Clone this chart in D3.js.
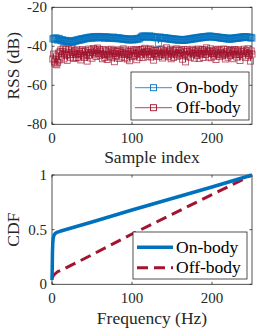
<!DOCTYPE html>
<html>
<head>
<meta charset="utf-8">
<script src="https://cdn.jsdelivr.net/npm/d3@7"></script>
<style>
  body { margin: 0; background: #fff; }
  svg { display: block; }
  svg text { font-family: "Liberation Serif", "DejaVu Serif", serif; }
</style>
</head>
<body>
<svg id="chart" width="257" height="331"></svg>
<script>
// RSS samples (dB), index 1..250
const onBodyRss = [
  -36.2,-35.8,-36.5,-36.0,-35.6,-36.3,-36.9,-36.1,-35.9,-36.6,
  -36.8,-37.2,-36.5,-37.4,-37.0,-37.6,-36.9,-37.3,-37.8,-37.1,
  -37.5,-37.9,-37.2,-37.6,-38.0,-37.3,-37.7,-37.1,-37.5,-36.8,
  -37.2,-36.6,-37.0,-36.4,-36.9,-36.2,-36.7,-36.0,-36.5,-35.9,
  -36.3,-35.7,-36.1,-35.5,-36.0,-35.4,-35.8,-35.2,-35.9,-35.3,
  -35.6,-35.0,-35.7,-35.2,-35.8,-35.1,-35.5,-34.9,-35.4,-35.0,
  -35.6,-35.1,-35.7,-35.3,-35.9,-35.2,-35.6,-35.0,-35.5,-35.8,
  -35.3,-35.9,-35.4,-36.0,-35.5,-35.8,-35.2,-35.7,-36.1,-35.6,
  -36.0,-35.5,-36.2,-35.7,-36.1,-35.8,-36.3,-35.9,-36.4,-36.0,
  -36.5,-36.1,-36.6,-36.2,-36.8,-36.3,-36.7,-36.2,-36.6,-36.4,
  -36.8,-36.3,-36.7,-36.1,-36.5,-36.0,-36.4,-35.9,-36.3,-35.8,
  -35.5,-35.0,-34.7,-35.2,-34.6,-35.1,-34.8,-35.3,-34.9,-35.4,
  -35.0,-34.6,-35.2,-34.8,-35.3,-34.9,-35.5,-35.1,-35.6,-35.2,
  -35.7,-35.3,-38.4,-35.6,-35.2,-35.8,-35.4,-36.0,-35.5,-35.9,
  -35.6,-36.1,-35.7,-36.2,-35.8,-36.3,-35.9,-36.4,-36.0,-36.5,
  -36.1,-36.6,-36.2,-36.7,-36.3,-36.8,-36.4,-36.9,-36.5,-36.8,
  -36.4,-36.9,-36.5,-37.0,-36.6,-36.9,-36.5,-36.8,-36.3,-36.7,
  -36.2,-36.6,-36.1,-36.5,-35.9,-36.3,-35.8,-36.2,-35.7,-36.1,
  -35.6,-35.9,-35.4,-35.8,-35.3,-35.7,-35.2,-35.6,-35.1,-35.5,
  -35.0,-35.4,-34.9,-35.3,-34.8,-35.2,-34.7,-35.1,-34.8,-35.2,
  -34.9,-35.3,-35.0,-35.4,-35.1,-35.5,-35.2,-35.6,-35.3,-35.8,
  -35.4,-35.9,-35.5,-36.0,-35.6,-36.1,-35.7,-36.2,-35.8,-36.3,
  -35.9,-36.4,-36.0,-36.3,-35.8,-36.2,-35.7,-36.1,-35.6,-36.0,
  -35.5,-35.9,-35.4,-35.8,-35.3,-35.7,-35.2,-35.6,-35.1,-35.5,
  -35.0,-35.4,-35.1,-35.5,-35.2,-35.6,-35.3,-35.7,-35.4,-35.8
];
const offBodyRss = [
  -46.5,-44.0,-48.0,-49.0,-45.0,-49.5,-48.2,-43.5,-47.0,-42.8,
  -41.8,-45.5,-42.6,-41.2,-46.5,-43.8,-41.7,-44.6,-47.2,-43.0,
  -41.5,-44.2,-45.6,-42.0,-40.9,-43.0,-46.2,-42.3,-44.3,-45.8,
  -41.8,-43.9,-45.9,-42.4,-43.7,-47.0,-42.6,-41.7,-44.9,-42.8,
  -45.7,-42.1,-44.1,-47.6,-43.1,-41.4,-44.6,-43.4,-41.9,-46.1,
  -42.9,-41.1,-44.0,-41.8,-45.2,-42.3,-40.9,-43.6,-41.6,-44.8,
  -42.5,-43.9,-46.4,-41.7,-44.2,-45.8,-42.0,-42.9,-46.8,-44.3,
  -41.9,-45.1,-42.8,-41.5,-45.9,-43.5,-42.1,-47.9,-43.7,-42.5,
  -45.0,-42.7,-41.8,-46.2,-44.0,-42.3,-45.5,-43.1,-41.3,-44.2,
  -45.9,-41.9,-43.6,-46.5,-42.5,-44.1,-47.4,-42.7,-41.8,-45.3,
  -43.0,-42.0,-44.8,-43.8,-41.6,-46.9,-43.5,-42.2,-45.6,-42.8,
  -41.7,-44.3,-41.5,-45.8,-43.2,-41.0,-43.9,-42.4,-45.1,-42.7,
  -41.6,-44.2,-41.3,-45.5,-43.0,-42.0,-47.1,-43.7,-42.2,-44.5,
  -43.5,-41.9,-45.2,-42.9,-41.8,-44.3,-41.4,-46.0,-43.9,-42.4,
  -44.9,-43.3,-40.8,-44.1,-42.0,-45.4,-42.7,-41.5,-46.4,-43.9,
  -42.2,-45.7,-43.0,-41.8,-44.3,-41.3,-45.1,-43.6,-42.1,-44.6,
  -43.3,-41.9,-46.6,-42.8,-41.6,-44.2,-48.0,-42.6,-41.8,-45.0,
  -43.9,-42.4,-45.6,-43.0,-41.5,-44.0,-42.2,-46.1,-43.5,-41.9,
  -44.8,-42.7,-41.4,-46.3,-43.7,-42.0,-44.3,-41.7,-45.7,-42.8,
  -41.8,-44.2,-40.8,-43.4,-42.2,-45.5,-42.7,-41.3,-45.9,-43.7,
  -42.4,-45.0,-43.5,-41.9,-46.8,-42.8,-41.5,-44.2,-42.0,-45.3,
  -43.1,-41.8,-44.6,-43.8,-41.4,-44.3,-46.5,-42.7,-41.7,-45.6,
  -43.3,-42.2,-44.8,-41.9,-43.9,-46.4,-42.6,-41.6,-44.3,-42.0,
  -45.5,-42.9,-41.8,-44.2,-47.3,-43.5,-42.4,-45.0,-42.7,-41.5,
  -43.8,-45.8,-42.2,-43.4,-41.3,-44.6,-43.6,-47.6,-42.4,-44.0
];

// CDF of frequency (Hz)
const onBodyFreq = [0, 0.3, 0.6, 1, 1.5, 2.5, 4, 6, 10, 50, 100, 150, 200, 250];
const onBodyCdf  = [0.04, 0.15, 0.30, 0.38, 0.42, 0.45, 0.465, 0.475, 0.485, 0.57, 0.68, 0.785, 0.89, 1.0];
const offBodyFreq = [0, 3, 7, 12, 50, 100, 150, 200, 250];
const offBodyCdf  = [0.06, 0.09, 0.115, 0.13, 0.27, 0.46, 0.64, 0.82, 1.0];

const seriesNames = ['On-body', 'Off-body'];
const seriesColors = ['#0072BD', '#A2142F'];
const xTicks = [0, 100, 200];
const rssTicks = [-20, -40, -60, -80];
const cdfTicks = [0, 0.5, 1];

const svg = d3.select('#chart');
const axisColor = '#262626';

// Draw an axes box with inward ticks on all four sides
function drawAxes(x, y, yTicks, yFmt) {
    const [x0, x1] = x.range();
    const [y0, y1] = y.range();
    const g = svg.append('g');
    g.append('rect')
        .attr('x', x0).attr('y', y1)
        .attr('width', x1 - x0).attr('height', y0 - y1)
        .attr('fill', 'none').attr('stroke', axisColor).attr('stroke-width', 0.8);

    const tl = 2.5;
    xTicks.forEach(t => {
        const px = x(t);
        g.append('line').attr('x1', px).attr('x2', px).attr('y1', y0).attr('y2', y0 - tl)
            .attr('stroke', axisColor).attr('stroke-width', 0.8);
        g.append('line').attr('x1', px).attr('x2', px).attr('y1', y1).attr('y2', y1 + tl)
            .attr('stroke', axisColor).attr('stroke-width', 0.8);
        g.append('text').attr('x', px).attr('y', y0 + 18.5)
            .attr('text-anchor', 'middle').style('font-size', '15px').attr('fill', axisColor)
            .text(t);
    });
    yTicks.forEach(t => {
        const py = y(t);
        g.append('line').attr('x1', x0).attr('x2', x0 + tl).attr('y1', py).attr('y2', py)
            .attr('stroke', axisColor).attr('stroke-width', 0.8);
        g.append('line').attr('x1', x1).attr('x2', x1 - tl).attr('y1', py).attr('y2', py)
            .attr('stroke', axisColor).attr('stroke-width', 0.8);
        g.append('text').attr('x', x0 - 5).attr('y', py).attr('dy', '0.33em')
            .attr('text-anchor', 'end').style('font-size', '15px').attr('fill', axisColor)
            .text(yFmt(t));
    });
    return g;
}

function axisLabels(x, y, xLabel, yLabel, xLabelY) {
    const [x0, x1] = x.range();
    const [y0, y1] = y.range();
    svg.append('text')
        .attr('x', (x0 + x1) / 2).attr('y', xLabelY)
        .attr('text-anchor', 'middle').style('font-size', '17.5px').attr('fill', axisColor)
        .text(xLabel);
    svg.append('text')
        .attr('transform', `translate(19,${(y0 + y1) / 2}) rotate(-90)`)
        .attr('text-anchor', 'middle').style('font-size', '17.5px').attr('fill', axisColor)
        .text(yLabel);
}

function drawLegend(box, rows, drawSample) {
    const g = svg.append('g');
    g.append('rect')
        .attr('x', box.x).attr('y', box.y).attr('width', box.w).attr('height', box.h)
        .attr('fill', '#fff').attr('stroke', axisColor).attr('stroke-width', 0.8);
    rows.forEach((r, i) => {
        drawSample(g, i, r);
        g.append('text').attr('x', box.textX).attr('y', r).attr('dy', '0.33em')
            .style('font-size', '17.5px').attr('fill', '#000')
            .text(seriesNames[i]);
    });
}

// ---------- Top: RSS vs sample index ----------
const x1 = d3.scaleLinear().domain([0, 250]).range([52, 252]);
const y1 = d3.scaleLinear().domain([-80, -20]).range([124.3, 7.3]);

drawAxes(x1, y1, rssTicks, d => d);

const rssLine = d3.line().x((d, i) => x1(i + 1)).y(d => y1(d));
const ms = 6;

[offBodyRss, onBodyRss].forEach((series, k) => {
    const color = k === 0 ? seriesColors[1] : seriesColors[0];
    svg.append('path')
        .datum(series)
        .attr('d', rssLine)
        .attr('fill', 'none').attr('stroke', color).attr('stroke-width', 0.8);
    svg.append('g').selectAll('rect')
        .data(series)
        .enter().append('rect')
        .attr('x', (d, i) => x1(i + 1) - ms / 2)
        .attr('y', d => y1(d) - ms / 2)
        .attr('width', ms).attr('height', ms)
        .attr('fill', 'none').attr('stroke', color)
        .attr('stroke-width', 0.9).attr('stroke-opacity', 0.75);
});

axisLabels(x1, y1, 'Sample index', 'RSS (dB)', 163);

drawLegend({ x: 131, y: 72, w: 118, h: 48, textX: 176 }, [87.7, 107.7], (g, i, r) => {
    g.append('line').attr('x1', 135).attr('x2', 172).attr('y1', r).attr('y2', r)
        .attr('stroke', seriesColors[i]).attr('stroke-width', 0.8);
    g.append('rect').attr('x', 153.5 - ms / 2).attr('y', r - ms / 2)
        .attr('width', ms).attr('height', ms)
        .attr('fill', 'none').attr('stroke', seriesColors[i]).attr('stroke-width', 0.9);
});

// ---------- Bottom: CDF of frequency ----------
const x2 = d3.scaleLinear().domain([0, 250]).range([52, 252]);
const y2 = d3.scaleLinear().domain([0, 1]).range([284.3, 175]);

drawAxes(x2, y2, cdfTicks, d => d);

const cdfLine = d3.line().x(d => x2(d[0])).y(d => y2(d[1]));

svg.append('path')
    .datum(offBodyFreq.map((f, i) => [f, offBodyCdf[i]]))
    .attr('d', cdfLine)
    .attr('fill', 'none').attr('stroke', seriesColors[1])
    .attr('stroke-width', 3).attr('stroke-dasharray', '11,6');

svg.append('path')
    .datum(onBodyFreq.map((f, i) => [f, onBodyCdf[i]]))
    .attr('d', cdfLine)
    .attr('fill', 'none').attr('stroke', seriesColors[0])
    .attr('stroke-width', 3.5).attr('stroke-linejoin', 'round');

axisLabels(x2, y2, 'Frequency (Hz)', 'CDF', 324);

drawLegend({ x: 133, y: 232, w: 114, h: 47, textX: 176 }, [247.3, 267.7], (g, i, r) => {
    g.append('line').attr('x1', 137).attr('x2', 173).attr('y1', r).attr('y2', r)
        .attr('stroke', seriesColors[i])
        .attr('stroke-width', i === 0 ? 3.5 : 3)
        .attr('stroke-dasharray', i === 0 ? null : '11,6');
});
</script>
</body>
</html>
